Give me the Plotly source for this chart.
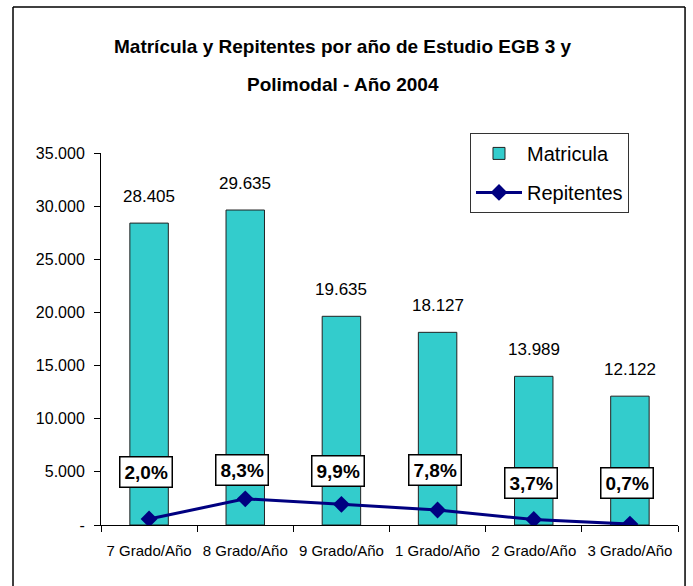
import plotly.graph_objects as go

categorias = ["7 Grado/Año", "8 Grado/Año", "9 Grado/Año", "1 Grado/Año", "2 Grado/Año", "3 Grado/Año"]
matricula = [28405, 29635, 19635, 18127, 13989, 12122]
repitentes = [568, 2460, 1944, 1414, 518, 85]
porcentajes = ["2,0%", "8,3%", "9,9%", "7,8%", "3,7%", "0,7%"]
etiqueta_y = [5000, 5150, 5050, 5150, 3950, 3950]
y_ticks = [0, 5000, 10000, 15000, 20000, 25000, 30000, 35000]
y_ticktext = ["-" if v == 0 else f"{v:,}".replace(",", ".") for v in y_ticks]
titulo = ["Matrícula y Repitentes por año de Estudio EGB 3 y", "Polimodal - Año 2004"]

FONT = "Liberation Sans, Arial, sans-serif"

fig = go.Figure()
fig.add_trace(go.Bar(
    x=categorias, y=matricula, name="Matricula", width=0.4, legendgroup="m",
    marker=dict(color="#33CCCC", line=dict(color="#222222", width=1)),
))
fig.add_trace(go.Scatter(
    x=categorias, y=repitentes, name="Repitentes", mode="lines+markers", legendgroup="r",
    line=dict(color="#000080", width=3),
    marker=dict(symbol="diamond", size=13, color="#000080"),
))

annotations = []
for c, v in zip(categorias, matricula):
    annotations.append(dict(
        x=c, y=v, xref="x", yref="y", text=f"{v:,}".replace(",", "."),
        showarrow=False, yanchor="bottom", yshift=15,
        font=dict(family=FONT, size=17, color="black"),
    ))
for c, p, ly in zip(categorias, porcentajes, etiqueta_y):
    annotations.append(dict(
        x=c, y=ly, xref="x", yref="y", text=f"<b>{p}</b>",
        showarrow=False, xshift=-3,
        bgcolor="white", bordercolor="black", borderwidth=1.5, borderpad=4,
        font=dict(family=FONT, size=19, color="black"),
    ))
for txt, yp in zip(titulo, [1.285, 1.185]):
    annotations.append(dict(
        x=0.42, y=yp, xref="paper", yref="paper", text=f"<b>{txt}</b>",
        showarrow=False, xanchor="center", yanchor="middle",
        font=dict(family=FONT, size=19, color="black"),
    ))

# outer frame (paper coordinates relative to the plot area)
bx0, bx1, by0, by1 = -0.1525, 1.0122, -0.2, 1.3925
frame = [
    dict(type="line", xref="paper", yref="paper", x0=bx0, x1=bx0, y0=by0, y1=by1),
    dict(type="line", xref="paper", yref="paper", x0=bx0, x1=bx1, y0=by1, y1=by1),
    dict(type="line", xref="paper", yref="paper", x0=bx1, x1=bx1, y0=by0, y1=by1),
]
for s in frame:
    s["line"] = dict(color="black", width=1.5)

fig.update_layout(
    width=693, height=586,
    margin=dict(l=101, r=15, t=153, b=61, autoexpand=False),
    paper_bgcolor="white", plot_bgcolor="white",
    font=dict(family=FONT, color="black"),
    showlegend=True,
    legend=dict(
        x=0.6395, y=1.054, xanchor="left", yanchor="top",
        bgcolor="white", bordercolor="#333333", borderwidth=1,
        font=dict(family=FONT, size=20, color="black"),
        tracegroupgap=10, itemwidth=46,
    ),
    annotations=annotations,
    shapes=frame,
)
fig.update_xaxes(
    type="category", range=[-0.5, 5.5], tickson="boundaries",
    ticks="outside", ticklen=6, tickcolor="black", tickangle=0, automargin=False,
    ticklabelstandoff=12,
    showline=True, linecolor="black", linewidth=1, showgrid=False,
    tickfont=dict(family=FONT, size=15, color="black"),
)
fig.update_yaxes(
    range=[0, 35000], tickvals=y_ticks, ticktext=y_ticktext, automargin=False,
    ticks="outside", ticklen=6, tickcolor="black", ticklabelstandoff=6,
    showline=True, linecolor="black", linewidth=1, showgrid=False, zeroline=False,
    tickfont=dict(family=FONT, size=16, color="black"),
)

fig.write_html(
    "out.html",
    config={"displayModeBar": False},
    post_script="document.body.style.margin='0';document.body.style.overflow='hidden';",
)
